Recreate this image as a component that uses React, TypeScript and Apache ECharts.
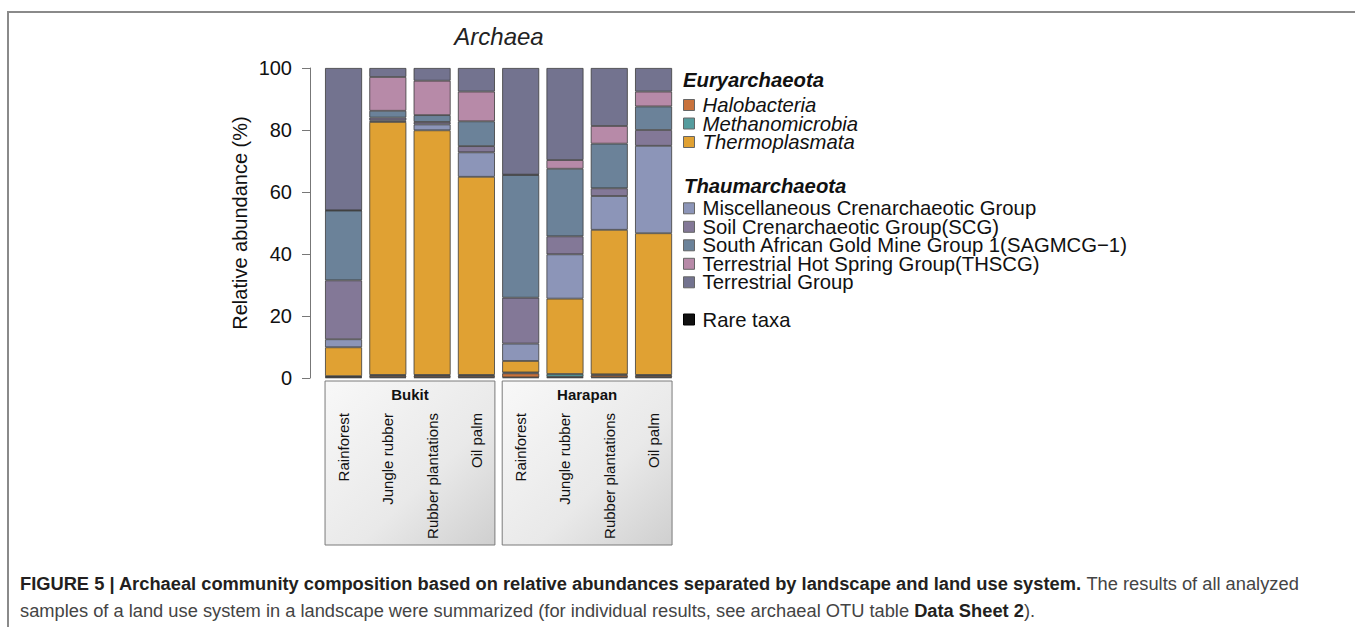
import React, { useEffect, useRef } from "react";
import * as echarts from "echarts";

const landscapes = ["Bukit", "Harapan"];
const landUses = ["Rainforest", "Jungle rubber", "Rubber plantations", "Oil palm"];
const categories = landscapes.flatMap((l) => landUses.map((u) => `${l}: ${u}`));

const yTicks = { min: 0, max: 100, interval: 20 };

const euryNames = ["Halobacteria", "Methanomicrobia", "Thermoplasmata"];
const thaumNames = [
  "Miscellaneous Crenarchaeotic Group",
  "Soil Crenarchaeotic Group(SCG)",
  "South African Gold Mine Group 1(SAGMCG\u22121)",
  "Terrestrial Hot Spring Group(THSCG)",
  "Terrestrial Group",
];
const rareName = "Rare taxa";

const rare = [0.2, 0.2, 0.2, 0.2, 0.2, 0.2, 0.2, 0.2];
const halobacteria = [0.2, 0.5, 0.5, 0.5, 1.3, 0.2, 0.7, 0.5];
const methanomicrobia = [0.2, 0.3, 0.3, 0.3, 0.3, 0.9, 0.3, 0.3];
const thermoplasmata = [9.3, 81.6, 78.9, 63.9, 3.7, 24.3, 46.6, 45.7];
const miscCren = [2.6, 0.5, 1.9, 7.9, 5.6, 14.3, 10.9, 28.2];
const scg = [19.0, 0.9, 0.8, 2.0, 14.8, 5.8, 2.5, 5.1];
const sagmcg = [22.5, 2.2, 2.2, 8.0, 39.6, 21.8, 14.4, 7.6];
const thscg = [0.1, 10.9, 11.1, 9.6, 0.1, 2.8, 5.7, 4.8];
const terrestrial = [45.9, 2.9, 4.1, 7.6, 34.4, 29.7, 18.7, 7.6];

const seriesDefs = [
  { name: rareName, data: rare, color: "#111111" },
  { name: euryNames[0], data: halobacteria, color: "#C8723C" },
  { name: euryNames[1], data: methanomicrobia, color: "#559C9E" },
  { name: euryNames[2], data: thermoplasmata, color: "#E0A133" },
  { name: thaumNames[0], data: miscCren, color: "#8C95B8" },
  { name: thaumNames[1], data: scg, color: "#837897" },
  { name: thaumNames[2], data: sagmcg, color: "#6B8299" },
  { name: thaumNames[3], data: thscg, color: "#B78AA8" },
  { name: thaumNames[4], data: terrestrial, color: "#73738F" },
];

const FONT = "'Liberation Sans', Arial, Helvetica, sans-serif";

export default function App() {
  const ref = useRef<HTMLDivElement>(null);
  useEffect(() => {
    if (!ref.current) return;
    const chart = echarts.init(ref.current, null, { renderer: "svg" });
    const barWidth = 37;
    const legendBase = {
      orient: "vertical" as const,
      left: 683,
      padding: 0,
      icon: "rect",
      itemWidth: 11,
      itemHeight: 11,
      itemGap: -1.5,
      selectedMode: false,
      itemStyle: { borderColor: "#666", borderWidth: 1 },
      textStyle: { fontFamily: FONT, fontSize: 20.3, color: "#111", padding: [0, 0, 0, 3] },
    };
    chart.setOption({
      animation: false,
      title: {
        text: "Archaea",
        left: 499,
        top: 24,
        padding: 0,
        textAlign: "center",
        textStyle: { fontFamily: FONT, fontSize: 24, fontStyle: "italic", fontWeight: "normal", color: "#222" },
      },
      grid: { left: 321.4, top: 68, width: 354.3, height: 310 },
      legend: [
        { ...legendBase, top: 95, data: euryNames, textStyle: { ...legendBase.textStyle, fontStyle: "italic" } },
        { ...legendBase, top: 198.3, data: thaumNames },
        { ...legendBase, top: 309.5, data: [rareName], itemStyle: { borderColor: "#000", borderWidth: 1 } },
      ],
      xAxis: {
        type: "category",
        data: categories,
        z: 10,
        axisLine: { show: false },
        axisTick: { show: false },
        axisLabel: {
          rotate: 90,
          margin: 35,
          interval: 0,
          fontFamily: FONT,
          fontSize: 15,
          color: "#111",
          formatter: (v: string) => v.split(": ")[1],
        },
      },
      yAxis: {
        type: "value",
        ...yTicks,
        offset: 11.4,
        name: "Relative abundance (%)",
        nameLocation: "middle",
        nameRotate: 90,
        nameGap: 60,
        nameTextStyle: { fontFamily: FONT, fontSize: 20, color: "#111" },
        axisLine: { show: true, lineStyle: { color: "#777", width: 1 } },
        axisTick: { show: true, length: 8, lineStyle: { color: "#777" } },
        axisLabel: { margin: 18, fontFamily: FONT, fontSize: 20, color: "#111" },
        splitLine: { show: false },
      },
      series: seriesDefs.map((s) => ({
        name: s.name,
        type: "bar",
        stack: "total",
        barWidth,
        data: s.data,
        itemStyle: { color: s.color, borderColor: "#3c3c3c", borderWidth: 0.8 },
      })),
    });

    const rich = {
      b: { fontFamily: FONT, fontSize: 18.3, fontWeight: "bold", fill: "#231f20" },
      n: { fontFamily: FONT, fontSize: 18.3, fill: "#444" },
    };
    const graphics: any[] = [
      {
        type: "rect",
        shape: { x: 8, y: 12, width: 1400, height: 700 },
        style: { fill: "none", stroke: "#8a8a8a", lineWidth: 2 },
        silent: true,
      },
      {
        type: "text",
        x: 683,
        y: 80,
        style: { text: "Euryarchaeota", fontFamily: FONT, fontSize: 20.3, fontWeight: "bold", fontStyle: "italic", fill: "#111", verticalAlign: "middle" },
      },
      {
        type: "text",
        x: 684,
        y: 186,
        style: { text: "Thaumarchaeota", fontFamily: FONT, fontSize: 20.3, fontWeight: "bold", fontStyle: "italic", fill: "#111", verticalAlign: "middle" },
      },
      {
        type: "text",
        x: 20,
        y: 583,
        style: {
          text: "{b|FIGURE 5 | Archaeal community composition based on relative abundances separated by landscape and land use system.}{n| The results of all analyzed}",
          verticalAlign: "middle",
          rich,
        },
      },
      {
        type: "text",
        x: 20,
        y: 610,
        style: {
          text: "{n|samples of a land use system in a landscape were summarized (for individual results, see archaeal OTU table }{b|Data Sheet 2}{n|).}",
          verticalAlign: "middle",
          rich,
        },
      },
    ];
    landscapes.forEach((l, i) => {
      const first = chart.convertToPixel({ xAxisIndex: 0 }, categories[i * 4]) as number;
      const last = chart.convertToPixel({ xAxisIndex: 0 }, categories[i * 4 + 3]) as number;
      const x0 = first - barWidth / 2;
      const x1 = last + barWidth / 2;
      graphics.push({
        type: "rect",
        z: -1,
        shape: { x: x0, y: 381, width: x1 - x0, height: 164 },
        style: {
          fill: new echarts.graphic.LinearGradient(0, 0, 1, 1, [
            { offset: 0, color: "#f8f8f8" },
            { offset: 0.6, color: "#e9e9e9" },
            { offset: 1, color: "#cfcfcf" },
          ]),
          stroke: "#7a7a7a",
          lineWidth: 1,
        },
      });
      graphics.push({
        type: "text",
        x: (x0 + x1) / 2,
        y: 394,
        style: { text: l, fontFamily: FONT, fontSize: 15, fontWeight: "bold", fill: "#111", align: "center", verticalAlign: "middle" },
      });
    });
    chart.setOption({ graphic: graphics });
    return () => chart.dispose();
  }, []);
  return <div ref={ref} style={{ position: "fixed", left: 0, top: 0, width: 1355, height: 627, background: "#fff" }} />;
}
